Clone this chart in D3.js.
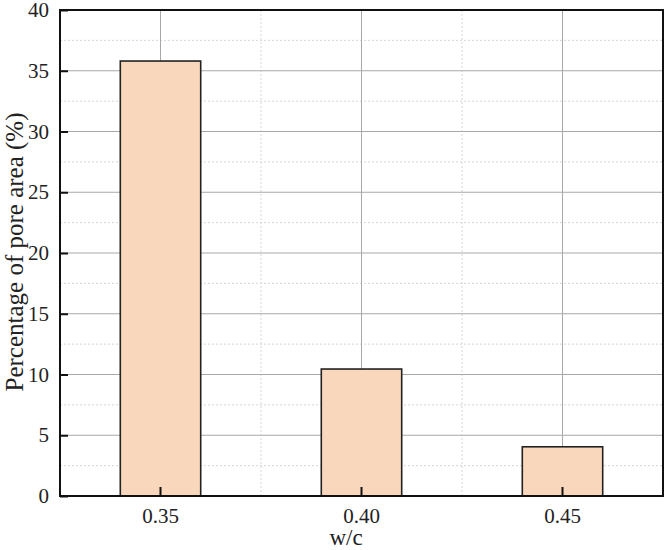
<!DOCTYPE html>
<html>
<head>
<meta charset="utf-8">
<script src="https://cdn.jsdelivr.net/npm/d3@7"></script>
<style>
  body { margin: 0; background: #fff; }
</style>
</head>
<body>
<div id="chart"></div>
<script>
(function(d3) {
  'use strict';

  var categories = ['0.35', '0.40', '0.45'];
  var poreArea = [35.8, 10.45, 4.05];
  var yTicks = [0, 5, 10, 15, 20, 25, 30, 35, 40];
  var yMinor = [2.5, 7.5, 12.5, 17.5, 22.5, 27.5, 32.5, 37.5];

  var font = '"Liberation Serif", "Times New Roman", Times, serif';
  var width = 666, height = 550;
  var margin = {top: 10, right: 3, bottom: 54, left: 60};
  var w = width - margin.left - margin.right;
  var h = height - margin.top - margin.bottom;

  var svg = d3.select('#chart').append('svg')
    .attr('width', width)
    .attr('height', height);

  var g = svg.append('g')
    .attr('transform', 'translate(' + margin.left + ',' + margin.top + ')');

  var x = d3.scaleBand()
    .domain(categories)
    .range([0, w])
    .paddingInner(0.6)
    .paddingOuter(0.3);

  var y = d3.scaleLinear().domain([0, 40]).range([h, 0]);

  // minor grid (dashed)
  g.selectAll('.ymin').data(yMinor).enter().append('line')
    .attr('x1', 0).attr('x2', w)
    .attr('y1', function(d) { return y(d); })
    .attr('y2', function(d) { return y(d); })
    .attr('stroke', '#d6d6d6').attr('stroke-dasharray', '2,2');

  var step = x.step();
  var xMinor = categories.slice(1).map(function(c) { return x(c) + x.bandwidth() / 2 - step / 2; });
  g.selectAll('.xmin').data(xMinor).enter().append('line')
    .attr('x1', function(d) { return d; })
    .attr('x2', function(d) { return d; })
    .attr('y1', 0).attr('y2', h)
    .attr('stroke', '#d6d6d6').attr('stroke-dasharray', '2,2');

  // major grid
  g.selectAll('.ymaj').data(yTicks.slice(1, -1)).enter().append('line')
    .attr('x1', 0).attr('x2', w)
    .attr('y1', function(d) { return y(d); })
    .attr('y2', function(d) { return y(d); })
    .attr('stroke', '#a8a8a8').attr('stroke-width', 1);

  g.selectAll('.xmaj').data(categories).enter().append('line')
    .attr('x1', function(d) { return x(d) + x.bandwidth() / 2; })
    .attr('x2', function(d) { return x(d) + x.bandwidth() / 2; })
    .attr('y1', 0).attr('y2', h)
    .attr('stroke', '#a8a8a8').attr('stroke-width', 1);

  // bars
  g.selectAll('.bar').data(poreArea).enter().append('rect')
    .attr('x', function(d, i) { return x(categories[i]); })
    .attr('width', x.bandwidth())
    .attr('y', function(d) { return y(d); })
    .attr('height', function(d) { return h - y(d); })
    .attr('fill', '#f9d7bc')
    .attr('stroke', '#222')
    .attr('stroke-width', 1.6);

  // frame
  g.append('rect')
    .attr('width', w).attr('height', h)
    .attr('fill', 'none').attr('stroke', '#111').attr('stroke-width', 2);

  // axes with inward ticks
  var yAxis = g.append('g')
    .call(d3.axisLeft(y).tickValues(yTicks).tickSize(-8).tickPadding(11).tickFormat(d3.format('d')));
  yAxis.select('.domain').remove();
  yAxis.selectAll('line').attr('stroke', '#111').attr('stroke-width', 2);
  yAxis.selectAll('text').style('font-family', font).style('font-size', '21px').attr('fill', '#222');

  var xAxis = g.append('g')
    .attr('transform', 'translate(0,' + h + ')')
    .call(d3.axisBottom(x).tickSize(-9).tickPadding(12));
  xAxis.select('.domain').remove();
  xAxis.selectAll('line').attr('stroke', '#111').attr('stroke-width', 2);
  xAxis.selectAll('text').style('font-family', font).style('font-size', '21px').attr('fill', '#222');

  // axis titles
  svg.append('text')
    .attr('transform', 'translate(' + 23 + ',' + 252 + ') rotate(-90)')
    .attr('text-anchor', 'middle')
    .style('font-family', font)
    .style('font-size', '25px')
    .attr('fill', '#222')
    .text('Percentage of pore area (%)');

  svg.append('text')
    .attr('x', 346)
    .attr('y', 545)
    .attr('text-anchor', 'middle')
    .style('font-family', font)
    .style('font-size', '23px')
    .attr('fill', '#222')
    .text('w/c');

})(window.d3);
</script>
</body>
</html>
